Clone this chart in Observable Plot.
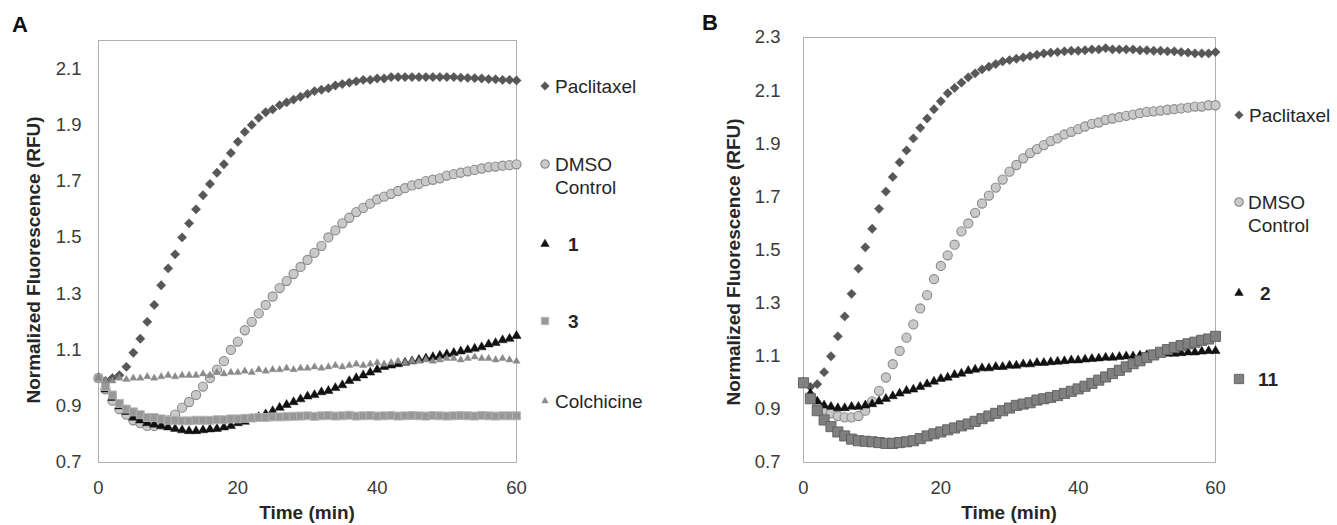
<!DOCTYPE html>
<html><head><meta charset="utf-8">
<script src="https://cdn.jsdelivr.net/npm/d3@7"></script>
<script src="https://cdn.jsdelivr.net/npm/@observablehq/plot@0.6"></script>
<style>
body{margin:0;background:#fff;font-family:"Liberation Sans",Arial,Helvetica,sans-serif;}
#wrap{position:relative;width:1337px;height:525px;overflow:hidden;background:#fff;}
.abs{position:absolute;white-space:nowrap;color:#262626;line-height:1;}
.panel{position:absolute;top:0;}
</style></head><body><div id="wrap"></div>
<script>
// ---------- data ----------
const minutes = [
  0,1,2,3,4,5,6,7,8,9,
  10,11,12,13,14,15,16,17,18,19,
  20,21,22,23,24,25,26,27,28,29,
  30,31,32,33,34,35,36,37,38,39,
  40,41,42,43,44,45,46,47,48,49,
  50,51,52,53,54,55,56,57,58,59,
  60];
const timeTicks = [0, 20, 40, 60];
const yTicksA = [0.7, 0.9, 1.1, 1.3, 1.5, 1.7, 1.9, 2.1];
const yTicksB = [0.7, 0.9, 1.1, 1.3, 1.5, 1.7, 1.9, 2.1, 2.3];

// Panel A
const paclitaxelA = [
  1.00,0.99,1.00,1.01,1.04,1.09,1.14,1.20,1.26,1.33,
  1.39,1.44,1.50,1.55,1.60,1.65,1.69,1.73,1.76,1.80,
  1.84,1.875,1.90,1.925,1.945,1.955,1.97,1.98,1.99,2.00,
  2.01,2.02,2.025,2.03,2.04,2.045,2.05,2.055,2.06,2.06,
  2.065,2.065,2.07,2.07,2.07,2.07,2.07,2.07,2.07,2.07,
  2.07,2.07,2.068,2.067,2.066,2.065,2.063,2.062,2.06,2.06,
  2.058];
const dmsoA = [
  1.00,0.96,0.92,0.89,0.87,0.85,0.84,0.83,0.83,0.835,
  0.85,0.87,0.895,0.915,0.94,0.97,1.00,1.03,1.06,1.10,
  1.13,1.17,1.20,1.23,1.26,1.29,1.32,1.345,1.37,1.395,
  1.42,1.445,1.47,1.50,1.525,1.55,1.57,1.59,1.605,1.62,
  1.635,1.645,1.655,1.665,1.675,1.685,1.69,1.70,1.705,1.71,
  1.72,1.725,1.73,1.735,1.74,1.745,1.75,1.752,1.755,1.757,
  1.76];
const compound1A = [
  1.00,0.96,0.93,0.90,0.88,0.86,0.85,0.84,0.835,0.83,
  0.825,0.82,0.815,0.812,0.812,0.815,0.818,0.82,0.825,0.83,
  0.84,0.845,0.855,0.862,0.872,0.883,0.895,0.905,0.915,0.925,
  0.935,0.94,0.95,0.955,0.965,0.975,0.99,1.00,1.01,1.02,
  1.03,1.04,1.045,1.05,1.055,1.06,1.065,1.07,1.075,1.08,
  1.085,1.09,1.095,1.10,1.105,1.11,1.12,1.125,1.135,1.14,
  1.15];
const compound3A = [
  1.00,0.97,0.94,0.91,0.89,0.88,0.87,0.86,0.86,0.855,
  0.85,0.85,0.848,0.848,0.85,0.85,0.85,0.852,0.852,0.855,
  0.855,0.857,0.858,0.86,0.86,0.862,0.862,0.863,0.864,0.865,
  0.866,0.864,0.866,0.867,0.865,0.866,0.868,0.865,0.866,0.867,
  0.865,0.866,0.867,0.865,0.866,0.867,0.866,0.865,0.867,0.866,
  0.865,0.866,0.867,0.866,0.865,0.867,0.866,0.865,0.866,0.866,
  0.866];
const colchicineA = [
  1.00,0.99,0.99,1.00,0.995,1.00,1.00,1.005,1.00,1.005,
  1.01,1.005,1.01,1.01,1.01,1.015,1.01,1.02,1.015,1.02,
  1.02,1.025,1.02,1.03,1.025,1.03,1.03,1.035,1.03,1.035,
  1.035,1.04,1.035,1.04,1.045,1.04,1.045,1.05,1.045,1.05,
  1.055,1.05,1.055,1.06,1.055,1.06,1.06,1.065,1.06,1.065,
  1.07,1.07,1.065,1.07,1.075,1.07,1.07,1.065,1.07,1.065,
  1.06];

// Panel B
const paclitaxelB = [
  1.00,0.985,0.995,1.04,1.10,1.175,1.25,1.335,1.43,1.51,
  1.58,1.655,1.72,1.775,1.83,1.875,1.92,1.96,1.995,2.03,
  2.06,2.09,2.11,2.13,2.15,2.165,2.18,2.19,2.20,2.21,
  2.215,2.22,2.225,2.23,2.235,2.24,2.243,2.245,2.248,2.25,
  2.25,2.252,2.255,2.255,2.26,2.255,2.255,2.255,2.255,2.252,
  2.252,2.25,2.25,2.248,2.248,2.245,2.243,2.24,2.24,2.24,
  2.245];
const dmsoB = [
  1.00,0.95,0.92,0.90,0.885,0.875,0.87,0.87,0.875,0.895,
  0.93,0.97,1.02,1.07,1.12,1.17,1.22,1.28,1.33,1.39,
  1.44,1.48,1.52,1.57,1.60,1.64,1.675,1.705,1.735,1.765,
  1.795,1.82,1.845,1.865,1.88,1.895,1.91,1.92,1.935,1.945,
  1.955,1.965,1.975,1.98,1.99,1.995,2.00,2.005,2.01,2.015,
  2.02,2.022,2.025,2.028,2.03,2.033,2.036,2.04,2.04,2.045,
  2.045];
const compound2B = [
  1.00,0.96,0.93,0.915,0.91,0.905,0.905,0.91,0.91,0.915,
  0.92,0.93,0.94,0.95,0.96,0.97,0.975,0.985,0.995,1.005,
  1.015,1.02,1.03,1.035,1.045,1.05,1.055,1.055,1.06,1.06,
  1.065,1.065,1.07,1.07,1.075,1.075,1.078,1.08,1.082,1.085,
  1.085,1.088,1.09,1.092,1.095,1.095,1.098,1.10,1.10,1.103,
  1.105,1.105,1.108,1.11,1.11,1.112,1.115,1.115,1.118,1.12,
  1.12];
const compound11B = [
  1.00,0.94,0.895,0.86,0.835,0.815,0.80,0.788,0.782,0.78,
  0.778,0.775,0.772,0.772,0.775,0.778,0.782,0.79,0.80,0.808,
  0.815,0.823,0.83,0.838,0.845,0.855,0.865,0.875,0.885,0.895,
  0.905,0.915,0.92,0.925,0.935,0.94,0.945,0.952,0.96,0.968,
  0.977,0.987,0.998,1.01,1.022,1.035,1.047,1.06,1.072,1.083,
  1.095,1.105,1.115,1.125,1.133,1.14,1.147,1.153,1.16,1.165,
  1.175];

// ---------- styles (separate from data) ----------
const styles = {
  paclitaxel: {symbol: "diamond2", fill: "#575757", stroke: "#575757", sw: 0.5, r: 4.2},
  dmso:       {symbol: "circle",   fill: "#c9c9c9", stroke: "#8a8a8a", sw: 1.1, r: 4.6},
  black:      {symbol: "triangle", fill: "#111111", stroke: "#111111", sw: 0.5, r: 3.4},
  sq3:        {symbol: "square",   fill: "#989898", stroke: "#b5b5b5", sw: 0.9, r: 4.5},
  colch:      {symbol: "triangle", fill: "#8a8a8a", stroke: "#8a8a8a", sw: 0.4, r: 2.7},
  sq11:       {symbol: "square",   fill: "#808080", stroke: "#5e5e5e", sw: 0.9, r: 5.7}
};

const seriesA = [
  {label: "Paclitaxel", values: paclitaxelA, style: "paclitaxel"},
  {label: "DMSO Control", values: dmsoA, style: "dmso"},
  {label: "1", values: compound1A, style: "black"},
  {label: "3", values: compound3A, style: "sq3"},
  {label: "Colchicine", values: colchicineA, style: "colch"}
];
const seriesB = [
  {label: "Paclitaxel", values: paclitaxelB, style: "paclitaxel"},
  {label: "DMSO Control", values: dmsoB, style: "dmso"},
  {label: "2", values: compound2B, style: "black"},
  {label: "11", values: compound11B, style: "sq11"}
];

const symbolTypes = {diamond2: d3.symbolDiamond2, circle: d3.symbolCircle, triangle: d3.symbolTriangle, square: d3.symbolSquare};
const wrap = document.getElementById("wrap");
const FONT = '"Liberation Sans", Arial, Helvetica, sans-serif';

function panel(series, yDomain, yTicks, layout) {
  const marks = [Plot.frame({stroke: "#b0b0b0", strokeWidth: 1})];
  for (const s of series) {
    const st = styles[s.style];
    const rows = minutes.map((t, i) => ({t, v: s.values[i]}));
    marks.push(Plot.dot(rows, {x: "t", y: "v", symbol: st.symbol, fill: st.fill, stroke: st.stroke, strokeWidth: st.sw, r: st.r}));
  }
  marks.push(Plot.axisX({ticks: timeTicks, tickSize: 0, tickPadding: 18, label: null, fill: "#3a3a3a"}));
  marks.push(Plot.axisY({ticks: yTicks, tickSize: 0, tickPadding: layout.yPad, tickFormat: d3.format(".1f"), label: null, fill: "#3a3a3a"}));
  const svg = Plot.plot({
    width: layout.width, height: 525,
    marginLeft: layout.ml, marginRight: layout.mr, marginTop: layout.mt, marginBottom: 63,
    x: {domain: [0, 60]},
    y: {domain: yDomain},
    style: {fontFamily: FONT, fontSize: "18.5px", background: "transparent", color: "#3a3a3a", overflow: "visible"},
    marks
  });
  const div = document.createElement("div");
  div.className = "panel";
  div.style.left = layout.left + "px";
  div.appendChild(svg);
  wrap.appendChild(div);
}

function text(str, left, cy, opts = {}) {
  const d = document.createElement("div");
  d.className = "abs";
  d.textContent = str;
  d.style.left = left + "px";
  d.style.top = cy + "px";
  d.style.fontSize = (opts.size || 19) + "px";
  d.style.fontWeight = opts.bold ? "bold" : "normal";
  d.style.transform = opts.transform || "translateY(-50%)";
  if (opts.color) d.style.color = opts.color;
  wrap.appendChild(d);
  return d;
}

function symbol(styleKey, cx, cy) {
  const st = styles[styleKey];
  const ns = "http://www.w3.org/2000/svg";
  const s = document.createElementNS(ns, "svg");
  s.setAttribute("width", 20); s.setAttribute("height", 20);
  s.style.position = "absolute"; s.style.left = (cx - 10) + "px"; s.style.top = (cy - 10) + "px";
  const p = document.createElementNS(ns, "path");
  p.setAttribute("d", d3.symbol(symbolTypes[st.symbol], st.r * st.r * Math.PI * 0.85)());
  p.setAttribute("transform", "translate(10,10)");
  p.setAttribute("fill", st.fill); p.setAttribute("stroke", st.stroke); p.setAttribute("stroke-width", st.sw);
  s.appendChild(p);
  wrap.appendChild(s);
}

// Panel A
panel(seriesA, [0.7, 2.2], yTicksA, {left: 0, width: 668, ml: 98, mr: 152, mt: 40, yPad: 17});
// Panel B
panel(seriesB, [0.7, 2.3], yTicksB, {left: 668, width: 669, ml: 135, mr: 122, mt: 37, yPad: 23});

// panel letters
text("A", 12, 25, {size: 22, bold: true, color: "#111"});
text("B", 702, 23, {size: 22, bold: true, color: "#111"});

// axis titles
text("Normalized Fluorescence (RFU)", 33, 260, {size: 19, bold: true, transform: "translate(-50%,-50%) rotate(-90deg)"});
text("Normalized Fluorescence (RFU)", 733, 262, {size: 19, bold: true, transform: "translate(-50%,-50%) rotate(-90deg)"});
text("Time (min)", 307, 512, {size: 19, bold: true, transform: "translate(-50%,-50%)"});
text("Time (min)", 1009, 512, {size: 19, bold: true, transform: "translate(-50%,-50%)"});

// legends (layout)
const legendA = [
  {key: 0, cy: 86, tx: 555},
  {key: 1, cy: 164, tx: 555},
  {key: 2, cy: 244, tx: 568, bold: true},
  {key: 3, cy: 321, tx: 568, bold: true},
  {key: 4, cy: 401, tx: 555}
];
const legendB = [
  {key: 0, cy: 115, tx: 1249},
  {key: 1, cy: 202, tx: 1248},
  {key: 2, cy: 293, tx: 1260, bold: true},
  {key: 3, cy: 379, tx: 1258, bold: true}
];
function legend(series, items, sx) {
  for (const it of items) {
    const s = series[it.key];
    symbol(s.style, sx, it.cy);
    const words = s.label === "DMSO Control" ? ["DMSO", "Control"] : [s.label];
    words.forEach((w, j) => text(w, it.tx, it.cy + j * 23, {size: 19, bold: it.bold}));
  }
}
legend(seriesA, legendA, 545);
legend(seriesB, legendB, 1239);
</script></body></html>
